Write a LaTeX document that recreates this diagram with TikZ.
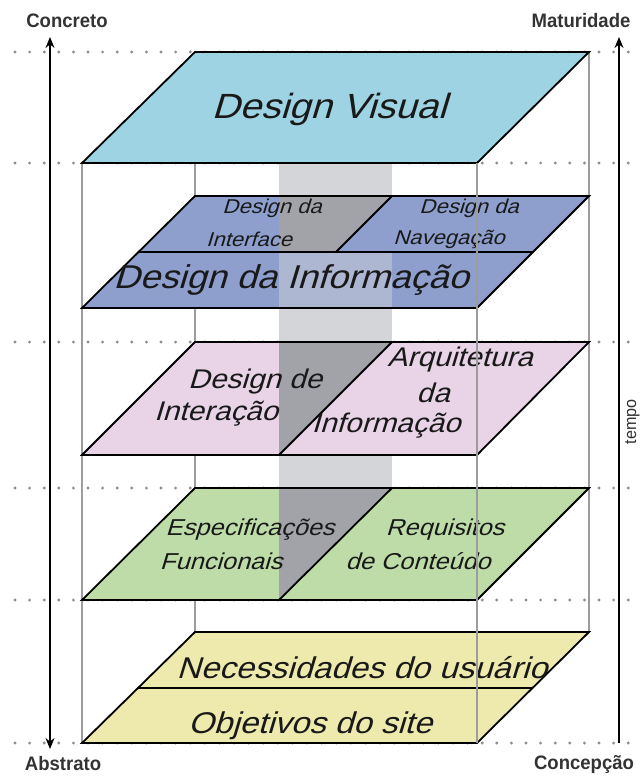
\documentclass[tikz,border=0pt]{standalone}
\usepackage{fontspec}
\setmainfont{Liberation Sans}
\newfontfamily\planefont[FakeStretch=1.1,FakeSlant=0.3]{Liberation Sans}
\newfontfamily\labelfont[FakeStretch=0.95]{Liberation Sans}
\usetikzlibrary{arrows.meta}
\definecolor{cvisual}{HTML}{9DD3E2}
\definecolor{cblue}{HTML}{8E9FCD}
\definecolor{cpink}{HTML}{E8D4E6}
\definecolor{cgreen}{HTML}{BEDCA8}
\definecolor{cyellow}{HTML}{EEEAAE}
\definecolor{cband}{HTML}{D3D5D8}
\definecolor{cdark}{HTML}{A2A3A8}
\definecolor{cframe}{HTML}{9C9C9C}
\definecolor{cdots}{HTML}{8E8E8E}
\definecolor{clabel}{HTML}{333333}
\tikzset{
  dotrow/.style={cdots, line width=3.2pt, line cap=round, dash pattern=on 0pt off 14.6pt},
  frameline/.style={cframe, line width=2.2pt},
  planeedge/.style={black, line width=1.8pt, line join=miter},
  ptext/.style={inner sep=0pt, text=black!90},
  lab/.style={font=\labelfont\bfseries\fontsize{19.5}{22}\selectfont, text=clabel, inner sep=0pt},
  axisline/.style={black, line width=1.5pt}
}
\begin{document}
\begin{tikzpicture}[x=1pt,y=-1pt]
\useasboundingbox (0,0) rectangle (641,776);
\fill[white] (0,0) rectangle (641,776);
% dotted level lines
\foreach \y in {52,163,342,488,600,743} \draw[dotrow] (15,\y) -- (641,\y);
% back frame lines
\draw[frameline] (195,52) -- (195,632);
\draw[frameline] (589,52) -- (589,632);
\draw[frameline] (82,163) -- (82,743);
% grey band
\fill[cband] (279,163) rectangle (392,488);
% plane fills
\fill[cvisual] (82,163) -- (195,52) -- (589,52) -- (477,163) -- cycle;
\fill[cblue] (82,308) -- (195,196) -- (589,196) -- (477,308) -- cycle;
\fill[cpink] (82,455) -- (195,342) -- (589,342) -- (477,455) -- cycle;
\fill[cgreen] (82,600) -- (195,488) -- (589,488) -- (477,600) -- cycle;
\fill[cyellow] (82,743) -- (195,632) -- (589,632) -- (477,743) -- cycle;
% band overlays on planes
\fill[cdark] (279,196) -- (392,196) -- (336,252) -- (279,252) -- cycle;
\fill[cband, opacity=0.45] (279,252) rectangle (392,308);
\fill[cdark] (279,342) -- (392,342) -- (279,455) -- cycle;
\fill[cdark] (279,488) -- (392,488) -- (279,600) -- cycle;
% plane outlines
\draw[planeedge] (82,163) -- (195,52) -- (589,52) -- (477,163) -- cycle;
\draw[planeedge] (82,308) -- (195,196) -- (589,196) -- (477,308) -- cycle;
\draw[planeedge] (138.5,252) -- (533.5,252);
\draw[planeedge] (392,196) -- (336,252);
\draw[planeedge] (82,455) -- (195,342) -- (589,342) -- (477,455) -- cycle;
\draw[planeedge] (392,342) -- (279,455);
\draw[planeedge] (82,600) -- (195,488) -- (589,488) -- (477,600) -- cycle;
\draw[planeedge] (392,488) -- (279,600);
\draw[planeedge] (82,743) -- (195,632) -- (589,632) -- (477,743) -- cycle;
\draw[planeedge] (138,688) -- (533,688);
% plane texts
\node[ptext, font=\planefont\fontsize{35}{40}\selectfont, anchor=base] (visual) at (329,118) {Design Visual};
\node[ptext, font=\planefont\fontsize{20}{22}\selectfont] (di1) at (272,208) {Design da};
\node[ptext, font=\planefont\fontsize{20}{22}\selectfont] (di2) at (249,239) {Interface};
\node[ptext, font=\planefont\fontsize{20}{22}\selectfont] (dn1) at (469,208) {Design da};
\node[ptext, font=\planefont\fontsize{20}{22}\selectfont] (dn2) at (449,239) {Navegação};
\node[ptext, font=\planefont\fontsize{33}{38}\selectfont, anchor=base] (dinfo) at (291,288) {Design da Informação};
\node[ptext, font=\planefont\fontsize{27}{30}\selectfont] (dint1) at (255,382) {Design de};
\node[ptext, font=\planefont\fontsize{27}{30}\selectfont] (dint2) at (216,414) {Interação};
\node[ptext, font=\planefont\fontsize{27}{30}\selectfont] (arq1) at (460,360) {Arquitetura};
\node[ptext, font=\planefont\fontsize{27}{30}\selectfont] (arq2) at (433,393) {da};
\node[ptext, font=\planefont\fontsize{27}{30}\selectfont] (arq3) at (386,426) {Informação};
\node[ptext, font=\planefont\fontsize{23}{26}\selectfont] (esp1) at (250,530) {Especificações};
\node[ptext, font=\planefont\fontsize{23}{26}\selectfont] (esp2) at (221,561) {Funcionais};
\node[ptext, font=\planefont\fontsize{23}{26}\selectfont] (req1) at (445,530) {Requisitos};
\node[ptext, font=\planefont\fontsize{23}{26}\selectfont] (req2) at (418,561) {de Conteúdo};
\node[ptext, font=\planefont\fontsize{30}{34}\selectfont, anchor=base] (nec) at (362,678) {Necessidades do usuário};
\node[ptext, font=\planefont\fontsize{30}{34}\selectfont, anchor=base] (obj) at (310,733) {Objetivos do site};
% front frame line on top
\draw[frameline] (477,163) -- (477,743);
% axes
\coordinate (ltop) at (50,37);
\coordinate (lbot) at (50,749);
\coordinate (rtop) at (619,37);
\coordinate (rbot) at (619,743);
\draw[axisline, {Stealth[length=11pt,width=9pt]}-{Stealth[length=11pt,width=9pt]}] (ltop) -- (lbot);
\draw[axisline, -{Stealth[length=11pt,width=9pt]}] (rbot) -- (rtop);
% labels
\node[lab] (concreto) at (67,21) {Concreto};
\node[lab] (maturidade) at (581,21) {Maturidade};
\node[lab] (abstrato) at (63,764) {Abstrato};
\node[lab] (concepcao) at (584,764) {Concepção};
\node[font=\labelfont\fontsize{17}{20}\selectfont, text=clabel, inner sep=0pt, rotate=90, anchor=base] (tempo) at (636,422) {tempo};
\end{tikzpicture}
\end{document}
